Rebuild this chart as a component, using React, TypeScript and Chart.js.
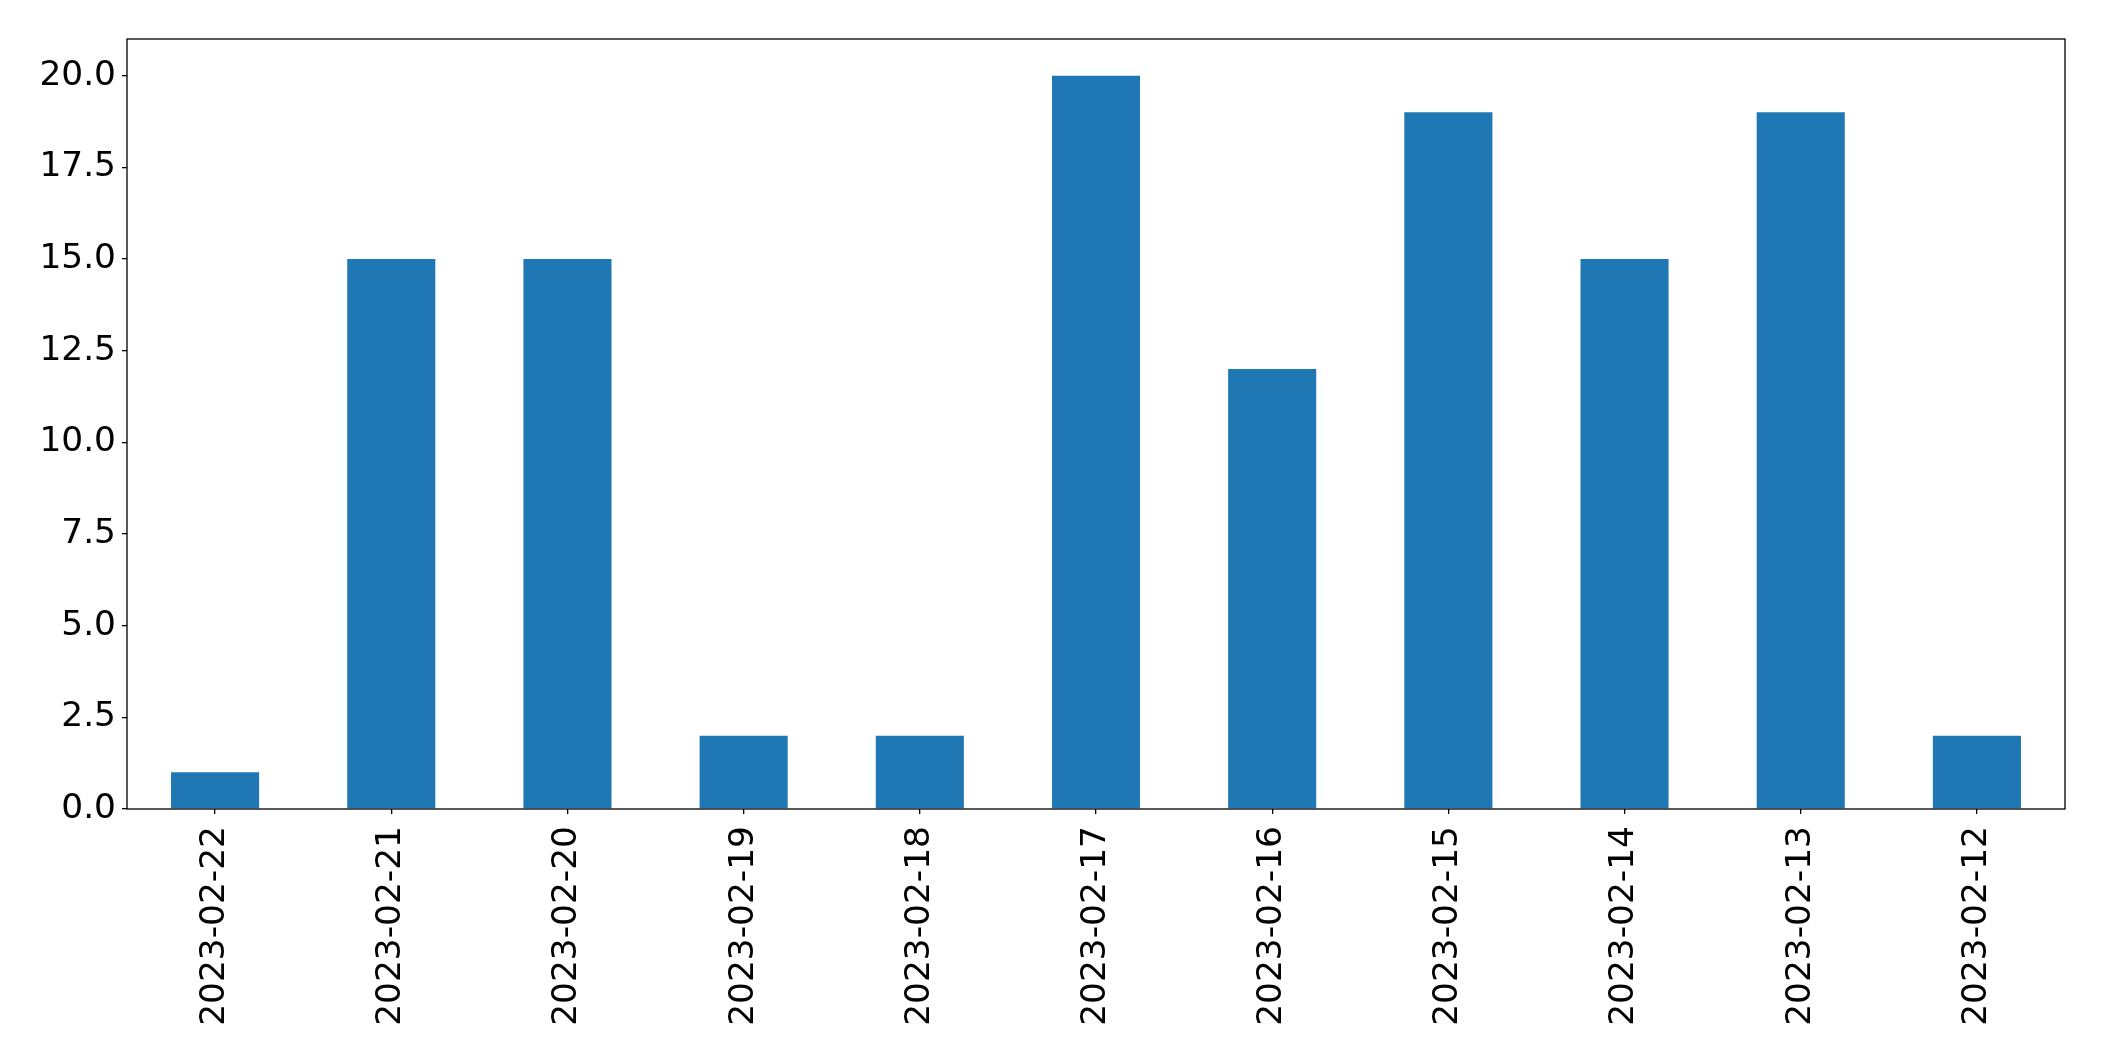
import React, { useEffect, useRef } from "react";
import { Chart, registerables } from "chart.js";

Chart.register(...registerables);

const categories = [
  "2023-02-22", "2023-02-21", "2023-02-20", "2023-02-19", "2023-02-18", "2023-02-17",
  "2023-02-16", "2023-02-15", "2023-02-14", "2023-02-13", "2023-02-12",
];
const values = [1, 15, 15, 2, 2, 20, 12, 19, 15, 19, 2];
const yMin = 0;
const yMax = 21;
const yStep = 2.5;
const yTickMax = 20;

const frame = {
  id: "frame",
  afterDatasetsDraw(chart: any) {
    const { ctx, chartArea } = chart;
    ctx.save();
    ctx.strokeStyle = "#000";
    ctx.lineWidth = 1.3;
    ctx.strokeRect(chartArea.left, chartArea.top, chartArea.right - chartArea.left, chartArea.bottom - chartArea.top);
    ctx.restore();
  },
};

export default function App() {
  const ref = useRef<HTMLCanvasElement>(null);
  useEffect(() => {
    if (!ref.current) return;
    const font = { family: "'DejaVu Sans'", size: 34.4 };
    const chart = new Chart(ref.current, {
      type: "bar",
      data: {
        labels: categories,
        datasets: [
          {
            data: values,
            backgroundColor: "#1f77b4",
            borderWidth: 0,
            categoryPercentage: 1,
            barPercentage: 0.5,
          },
        ],
      },
      options: {
        responsive: false,
        animation: false,
        devicePixelRatio: 1,
        layout: { padding: { top: 39, right: 39, left: 0, bottom: 0 } },
        plugins: { legend: { display: false }, tooltip: { enabled: false } },
        scales: {
          x: {
            offset: true,
            grid: { display: true, offset: false, drawOnChartArea: false, drawTicks: true, tickLength: 5, color: "#000", lineWidth: 1.3 },
            border: { display: false },
            ticks: { color: "#000", font, autoSkip: false, maxRotation: 90, minRotation: 90, padding: 12 },
            afterFit(scale: any) {
              scale.height = 252;
            },
          },
          y: {
            min: yMin,
            max: yMax,
            grid: { display: true, drawOnChartArea: false, drawTicks: true, tickLength: 5, color: "#000", lineWidth: 1.3 },
            border: { display: false },
            ticks: {
              color: "#000",
              font,
              stepSize: yStep,
              includeBounds: false,
              padding: 6,
              callback: (v: any) => Number(v).toFixed(1),
            },
            afterBuildTicks(scale: any) {
              scale.ticks = scale.ticks.filter((t: any) => t.value <= yTickMax + 1e-9);
            },
            afterFit(scale: any) {
              scale.width = 127;
            },
          },
        },
      },
      plugins: [frame],
    });
    return () => chart.destroy();
  }, []);
  return (
    <div style={{ position: "fixed", left: 0, top: 0, width: 2104, height: 1061, background: "#fff" }}>
      <canvas ref={ref} width={2104} height={1061} />
    </div>
  );
}
